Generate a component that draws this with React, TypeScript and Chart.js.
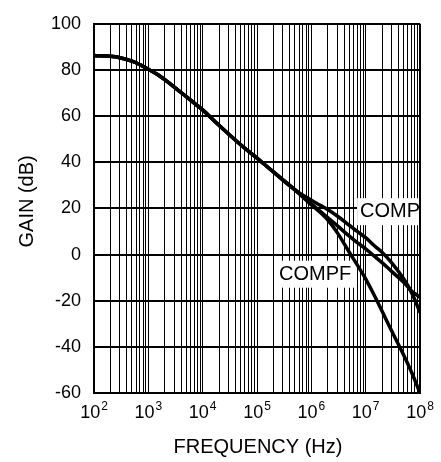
import React, { useEffect, useRef } from 'react';
import { Chart, registerables } from 'chart.js';

Chart.register(...registerables);

// ---- Data ----
const commonFreq = [100, 200, 300, 500, 700, 1000, 1500, 2000, 3000, 5000, 7000, 1e4, 2e4, 5e4, 1e5, 2e5, 5e5];
const commonGain = [86.3, 85.9, 85.3, 83.8, 82.3, 80.3, 77.9, 75.8, 72.6, 68.4, 65.6, 62.7, 56.0, 47.6, 41.8, 35.8, 28.0];

const branchFreq = [1e6, 1.5e6, 2e6, 3e6, 5e6, 7e6, 1e7, 1.5e7, 2e7, 3e7, 5e7, 7e7, 1e8];
const compGain = [23.5, 21.2, 19.5, 16.7, 12.7, 10.0, 7.3, 3.5, 1.0, -3.5, -10.5, -16.5, -25];
const midGain = [22, 18.5, 16, 12.5, 8, 5.2, 2.5, -1, -3.5, -7.3, -12, -15.8, -18.5];
const compfGain = [21.5, 18, 15, 9.5, 1, -4.5, -10.5, -18.5, -24.5, -33, -43.5, -51, -60];

const yMin = -60;
const yMax = 100;
const yStep = 20;
const xMinExp = 2;
const xMaxExp = 8;

const labelTexts = ['COMP', 'COMPF'];
const labelFreqs = [7.9e6, 2.54e5];
const labelGains = [16.2, -10.9];

const xTitle = 'FREQUENCY (Hz)';
const yTitle = 'GAIN (dB)';

const FONT = '"Liberation Sans", Arial, Helvetica, sans-serif';

function buildSeries(gains: number[]) {
  const pts = commonFreq.map((f, i) => ({ x: f, y: commonGain[i] }));
  return pts.concat(branchFreq.map((f, i) => ({ x: f, y: gains[i] })));
}

const overlayPlugin = {
  id: 'overlay',
  beforeDatasetsDraw(chart: any) {
    const { ctx, chartArea } = chart;
    const xs = chart.scales.x;
    const ys = chart.scales.y;
    ctx.save();
    ctx.font = `20px ${FONT}`;
    ctx.textAlign = 'left';
    ctx.textBaseline = 'alphabetic';
    labelTexts.forEach((t, i) => {
      const px = xs.getPixelForValue(labelFreqs[i]);
      const py = ys.getPixelForValue(labelGains[i]);
      const w = ctx.measureText(t).width;
      const left = px - 3;
      const right = Math.min(px + w + 3, chartArea.right - 1);
      ctx.fillStyle = '#ffffff';
      ctx.fillRect(left, py - 19, right - left, 27);
      ctx.fillStyle = '#000000';
      ctx.fillText(t, px, py);
    });
    ctx.restore();
  },
  afterDraw(chart: any) {
    const { ctx, chartArea } = chart;
    const xs = chart.scales.x;
    ctx.save();
    ctx.fillStyle = '#000000';
    ctx.textAlign = 'left';
    ctx.textBaseline = 'alphabetic';
    // decade tick labels with superscript exponents
    xs.ticks.forEach((tk: any) => {
      const e = Math.log10(tk.value);
      if (Math.abs(e - Math.round(e)) > 1e-9) return;
      const exp = String(Math.round(e));
      const px = xs.getPixelForValue(tk.value);
      ctx.font = `18px ${FONT}`;
      const w1 = ctx.measureText('10').width;
      ctx.font = `12px ${FONT}`;
      const w2 = ctx.measureText(exp).width;
      const start = px - (w1 + w2 + 1) / 2;
      ctx.font = `18px ${FONT}`;
      ctx.fillText('10', start, chartArea.bottom + 25);
      ctx.font = `12px ${FONT}`;
      ctx.fillText(exp, start + w1 + 1, chartArea.bottom + 17);
    });
    // axis titles
    ctx.font = `20px ${FONT}`;
    ctx.textAlign = 'center';
    ctx.fillText(xTitle, (chartArea.left + chartArea.right) / 2 + 1, chartArea.bottom + 59.5);
    ctx.save();
    ctx.translate(33, (chartArea.top + chartArea.bottom) / 2 - 7);
    ctx.rotate(-Math.PI / 2);
    ctx.fillText(yTitle, 0, 0);
    ctx.restore();
    ctx.restore();
  },
};

export default function App() {
  const canvasRef = useRef<HTMLCanvasElement | null>(null);

  useEffect(() => {
    document.body.style.margin = '0';
    const canvas = canvasRef.current;
    if (!canvas) return;
    const lineStyle = {
      borderColor: '#000000',
      backgroundColor: '#000000',
      borderWidth: 3.5,
      pointRadius: 0,
      fill: false,
      tension: 0.4,
      borderCapStyle: 'round' as const,
      borderJoinStyle: 'round' as const,
    };
    const chart = new Chart(canvas, {
      type: 'line',
      data: {
        datasets: [
          { label: 'COMP', data: buildSeries(compGain), ...lineStyle },
          { label: 'mid', data: buildSeries(midGain), ...lineStyle },
          { label: 'COMPF', data: buildSeries(compfGain), ...lineStyle },
        ],
      },
      options: {
        responsive: false,
        animation: false,
        devicePixelRatio: 1,
        layout: { padding: { top: 15, right: 21, left: 0, bottom: 0 } },
        plugins: {
          legend: { display: false },
          tooltip: { enabled: false },
          title: { display: false },
        },
        scales: {
          x: {
            type: 'logarithmic',
            min: Math.pow(10, xMinExp),
            max: Math.pow(10, xMaxExp),
            afterBuildTicks: (scale: any) => {
              const ticks: any[] = [];
              for (let e = xMinExp; e < xMaxExp; e++) {
                for (let m = 1; m <= 9; m++) ticks.push({ value: m * Math.pow(10, e) });
              }
              ticks.push({ value: Math.pow(10, xMaxExp) });
              scale.ticks = ticks;
            },
            afterFit: (scale: any) => {
              scale.height = 69;
            },
            ticks: { display: false, autoSkip: false },
            grid: {
              color: '#000000',
              lineWidth: (c: any) =>
                c.tick && Math.abs(c.tick.value - Math.pow(10, xMaxExp)) < 1 ? 2 : 1,
              drawTicks: false,
            },
            border: { display: true, color: '#000000', width: 2 },
          },
          y: {
            type: 'linear',
            min: yMin,
            max: yMax,
            afterFit: (scale: any) => {
              scale.width = 94;
            },
            ticks: {
              stepSize: yStep,
              color: '#000000',
              padding: 13,
              font: { family: FONT, size: 18 },
            },
            grid: { color: '#000000', lineWidth: 2, drawTicks: false },
            border: { display: true, color: '#000000', width: 2 },
          },
        },
      },
      plugins: [overlayPlugin],
    } as any);
    return () => chart.destroy();
  }, []);

  return (
    <div style={{ position: 'absolute', left: 0, top: 0, width: 441, height: 462, background: '#fff' }}>
      <canvas ref={canvasRef} width={441} height={462} />
    </div>
  );
}
